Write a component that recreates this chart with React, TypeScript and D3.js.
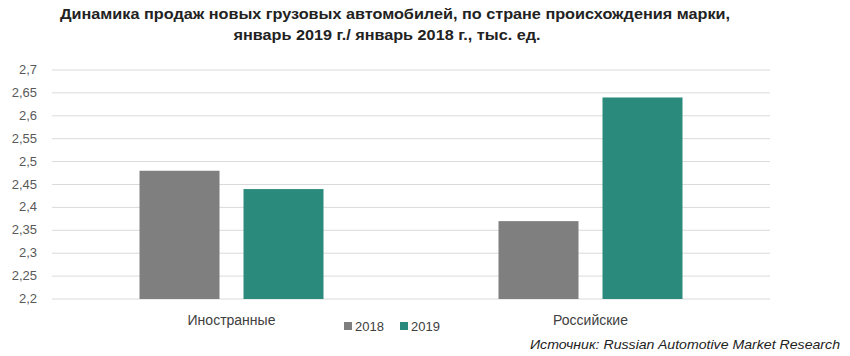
import React from "react";
import * as d3 from "d3";

const categories = ["Иностранные", "Российские"];
const seriesNames = ["2018", "2019"];
const values2018 = [2.48, 2.37];
const values2019 = [2.44, 2.64];
const yTicks = [2.2, 2.25, 2.3, 2.35, 2.4, 2.45, 2.5, 2.55, 2.6, 2.65, 2.7];
const titleLines = [
  "Динамика продаж новых грузовых автомобилей, по стране происхождения марки,",
  "январь 2019 г./ январь 2018 г., тыс. ед.",
];
const sourceText = "Источник: Russian Automotive Market Research";
const colors = ["#7f7f7f", "#2a8a7b"];

export default function App() {
  const W = 850, H = 356;
  const left = 52, right = 770, top = 70, bottom = 299;
  const x = d3.scaleBand<string>().domain(categories).range([left, right]);
  const inner = d3.scaleBand<string>().domain(seriesNames).range([0, 184]).paddingInner(24 / 104);
  const y = d3.scaleLinear().domain([2.2, 2.7]).range([bottom, top]);
  const series = [values2018, values2019];
  const fmt = (v: number) => String(+v.toFixed(2)).replace(".", ",");
  return (
    <svg width={W} height={H} style={{ position: "absolute", left: 0, top: 0, background: "#fff" }}>
      <g fontFamily="'Liberation Sans Narrow', 'Liberation Sans', Arial, sans-serif" fontWeight="bold" fontSize={14} fill="#222" textAnchor="middle">
        <text x={395} y={19} textLength={670} lengthAdjust="spacingAndGlyphs">{titleLines[0]}</text>
        <text x={387} y={40} textLength={307} lengthAdjust="spacingAndGlyphs">{titleLines[1]}</text>
      </g>
      {yTicks.map((t) => (
        <g key={t}>
          <line x1={left} x2={right} y1={y(t)} y2={y(t)} stroke="#dadada" strokeWidth={1} />
          <text x={37} y={y(t) + 4} textAnchor="end" fontFamily="'Liberation Sans', Arial, sans-serif" fontSize={13} fill="#595959">{fmt(t)}</text>
        </g>
      ))}
      {categories.map((c, i) => (
        <g key={c}>
          {seriesNames.map((s, j) => {
            const bx = (x(c) as number) + x.bandwidth() / 2 - 92 + (inner(s) as number);
            return (
              <rect key={s} x={bx} y={y(series[j][i])} width={inner.bandwidth()} height={bottom - y(series[j][i])} fill={colors[j]} />
            );
          })}
          <text x={(x(c) as number) + x.bandwidth() / 2} y={325} textAnchor="middle" fontFamily="'Liberation Sans', Arial, sans-serif" fontSize={14} fill="#404040">{c}</text>
        </g>
      ))}
      <g fontFamily="'Liberation Sans', Arial, sans-serif" fontSize={13} fill="#404040">
        {seriesNames.map((s, j) => (
          <g key={s} transform={`translate(${344 + j * 56},0)`}>
            <rect x={0} y={322} width={8} height={8} fill={colors[j]} />
            <text x={11} y={331}>{s}</text>
          </g>
        ))}
      </g>
      <text x={840} y={349} textAnchor="end" fontFamily="'Liberation Sans', Arial, sans-serif" fontStyle="italic" fontSize={13} fill="#222" textLength={310} lengthAdjust="spacingAndGlyphs">{sourceText}</text>
    </svg>
  );
}
